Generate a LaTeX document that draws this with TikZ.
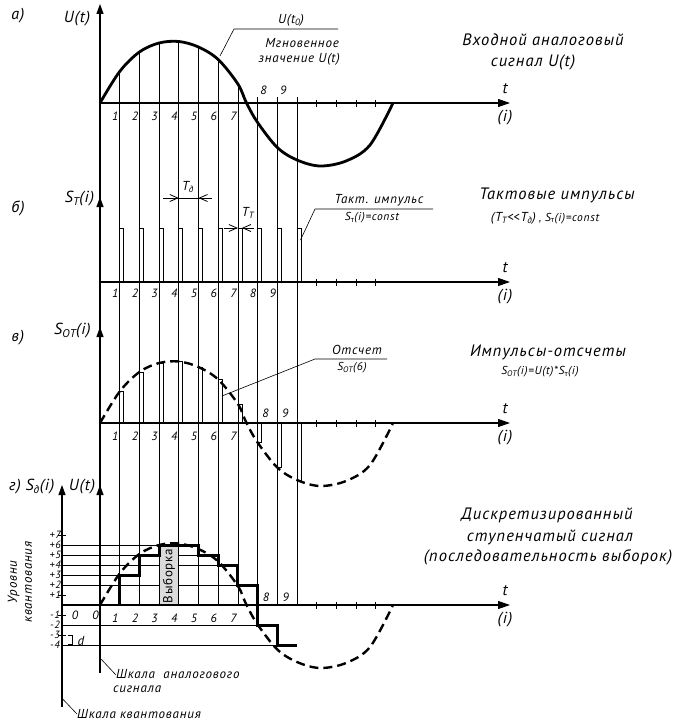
\documentclass[tikz,border=0pt]{standalone}
\usepackage{fontspec}
\setmainfont{PT Sans}[LetterSpace=6]
\usetikzlibrary{arrows.meta}
\newcommand\szT{\fontsize{16.5}{19}\selectfont}
\newcommand\szB{\fontsize{16}{18}\selectfont}
\newcommand\szM{\fontsize{13}{15}\selectfont}
\newcommand\szS{\fontsize{11.5}{13}\selectfont}
\newcommand\szQ{\fontsize{10.5}{12}\selectfont}
\newcommand\szN{\fontsize{12}{14}\selectfont}
\newcommand\lsub[1]{\textsubscript{#1}}
\begin{document}
\begin{tikzpicture}[x=1pt,y=-1pt,
  gridl/.style={line width=0.8pt},
  axisl/.style={line width=1.1pt},
  leader/.style={line width=0.6pt},
  solidcurve/.style={line width=2.8pt},
  dashcurve/.style={line width=2.4pt, dash pattern=on 9pt off 5pt},
  stair/.style={line width=3pt, line join=miter},
  vtip/.style={-{Triangle[length=10pt,width=7pt]}},
  htip/.style={-{Triangle[length=12pt,width=8pt]}},
  chev/.style={-{Straight Barb[length=8pt,width=7pt,line width=0.8pt]}},
  ttl/.style={font=\itshape\szT, inner sep=0pt},
  big/.style={font=\itshape\szB, inner sep=0pt},
  med/.style={font=\itshape\szM, inner sep=0pt},
  sml/.style={font=\itshape\szS, inner sep=0pt},
  qnt/.style={font=\itshape\szQ, inner sep=0pt},
  num/.style={font=\itshape\szN, inner sep=0pt}]
\fill[white] (0,0) rectangle (690,725);
\useasboundingbox (0,0) rectangle (690,725);

% ---- quantization level lines (panel g)
\foreach \yy/\xe in {545/198.5,555/218.2,565/237.9,575/139.4,585/257.6,625/277.3,645/297}
  \draw[gridl] (62,\yy) -- (\xe,\yy);
\foreach \yy in {535,595,615,635}
  \draw[gridl] (58,\yy) -- (66,\yy);

% ---- curves
\foreach \yy/\st in {103/solidcurve,423/dashcurve,605/dashcurve}
  \draw[\st, shift={(100,\yy)}] plot[smooth, tension=0.55] coordinates {
    (0,0) (19.7,-31.5) (39.4,-51) (59.1,-60) (78.8,-61.5) (98.5,-56)
    (118.2,-43.5) (137.9,-19) (146.5,0) (157.6,19.5) (177.3,44.5) (197,57)
    (220,63) (246,58) (270,42) (293,0)};

% ---- sample box
\fill[gray!28] (159.1,546.5) rectangle (178.8,605);
\node[font=\szM, inner sep=0pt, rotate=90] (vyb) at (169,576) {Выборка};

% ---- vertical grid lines
\foreach \k/\v in {1/31.5,2/51,3/60,4/61.5,5/56,6/43.5,7/19}
  \draw[gridl] (100+19.7*\k,103-\v) -- (100+19.7*\k,605);
\foreach \k in {8,9,10}
  \draw[gridl] (100+19.7*\k,97) -- (100+19.7*\k,605);

% ---- clock pulses (b)
\foreach \k in {1,...,10}
  \draw[gridl] (100+19.7*\k,282) -- ++(0,-54) -- ++(4,0) -- ++(0,54);
% ---- sample pulses (v)
\foreach \k/\v in {1/31.5,2/51,3/60,4/61.5,5/56,6/43.5,7/19,8/-19.5,9/-44.5,10/-57}
  \draw[gridl] (100+19.7*\k,423) -- ++(0,{-(\v)}) -- ++(4,0) -- ++(0,{\v});

% ---- staircase (g)
\draw[stair] (119.7,605) -- (119.7,575) -- (139.4,575) -- (139.4,555) -- (159.1,555)
  -- (159.1,545) -- (198.5,545) -- (198.5,555) -- (218.2,555) -- (218.2,565)
  -- (237.9,565) -- (237.9,585) -- (257.6,585) -- (257.6,625) -- (277.3,625)
  -- (277.3,645) -- (297,645);

% ---- axes
\draw[axisl] (100,10) -- (100,673);
\draw[axisl] (62,490) -- (62,707);
\foreach \yy in {4,197,327,485}
  \draw[axisl,vtip] (100,\yy+10) -- (100,\yy);
\draw[axisl,vtip] (62,495) -- (62,485);
\foreach \yy in {103,282,423}
  \draw[axisl,htip] (100,\yy) -- (510,\yy);
\draw[axisl,htip] (62,605) -- (510,605);
\foreach \yy in {103,282,423,605}
  \foreach \k in {11,...,14}
    \draw[gridl] (100+19.7*\k,\yy-3.5) -- ++(0,7);
\foreach \yy in {103,282,423,605}{
  \node[big] at (505,\yy-14) {t};
  \node[big] at (505,\yy+15) {(i)};
}

% ---- dimension marks
\draw[gridl] (163,198) -- (212,198);
\draw[gridl,chev] (163,198) -- (178.8,198);
\draw[gridl,chev] (212,198) -- (198.5,198);
\node[med] (td) at (188,187) {T\lsub{д}};
\draw[gridl,chev] (224,228) -- (237.9,228);
\draw[gridl,chev] (254,228) -- (241.9,228);
\node[med] (tt) at (248,213) {T\lsub{Т}};

% ---- bracket d
\draw[gridl] (68,635.5) -- (72,635.5) -- (72,644.5) -- (68,644.5);
\node[med] (dd) at (81,641) {d};

% ---- leaders
\draw[leader] (220,56) -- (234,29) -- (338,29);
\draw[leader] (300.5,240) -- (315,209) -- (433,209);
\draw[leader] (222,396) -- (315,359) -- (387,359);
\draw[leader] (101,659) -- (116,675);
\draw[leader] (62.7,699) -- (77,714);

% ---- numbers
\foreach \k in {1,...,7}{
  \node[num] at (100+19.7*\k-4.5,116.5) {\k};
  \node[num] at (100+19.7*\k-4.5,436) {\k};
  \node[num] at (100+19.7*\k-4.5,618) {\k};
}
\foreach \k in {1,...,9}
  \node[num] at (100+19.7*\k-4.5,293.5) {\k};
\foreach \k in {8,9}{
  \node[num] at (100+19.7*\k+6,90) {\k};
  \node[num] at (100+19.7*\k+8,413) {\k};
  \node[num] at (100+19.7*\k+8.5,597) {\k};
}
\node[num] (z1) at (75,615) {0};
\node[num] (z2) at (95.5,615) {0};
\foreach \n in {7,6,5,4,3,2,1}
  \node[qnt,anchor=east] at (61,605-10*\n) {+\n};
\foreach \n in {1,2,3,4}
  \node[qnt,anchor=east] at (60,605+10*\n) {-\n};

% ---- panel labels
\node[big] (la) at (18,16) {а)};
\node[big] (ua) at (77,19) {U(t)};
\node[big] (lb) at (18,208) {б)};
\node[big] (sb) at (79.5,199) {S\lsub{Т}(i)};
\node[big] (lv) at (18,338) {в)};
\node[big] (sv) at (72.5,331) {S\lsub{ОТ}(i)};
\node[big] (lg) at (15,487) {г)};
\node[big] (sg) at (40,487) {S\lsub{д}(i)};
\node[big] (ug) at (82,487) {U(t)};

% ---- leader texts
\node[med] (u0) at (291,20) {U(t\lsub{0})};
\node[med,anchor=east] (mg) at (339,43) {Мгновенное};
\node[med,anchor=east] (zn) at (340,59) {значение U(t)};
\node[med] (ti) at (379,200) {Такт. импульс};
\node[sml] (tc) at (372,218) {S\lsub{\upshape т}(i)=const};
\node[med] (ot) at (357,350) {Отсчет};
\node[sml] (o6) at (352,368) {S\lsub{ОТ}(6)};
\node[med,anchor=west] (sh1) at (116,674) {Шкала\ \ аналогового};
\node[med,anchor=west] (sh2) at (113,689) {сигнала};
\node[med,anchor=west] (sh3) at (77,714) {Шкала квантования};
\node[med,rotate=90,align=center] (ur) at (20,582) {Уровни\\квантования};

% ---- titles
\node[ttl] (t1) at (543,40) {Входной аналоговый};
\node[ttl] (t2) at (533,62) {сигнал U(t)};
\node[ttl] (t3) at (557,195) {Тактовые импульсы};
\node[inner sep=0pt,font=\itshape] (t4) at (545,218) {{\szM(T\lsub{Т}<\kern0pt<T\lsub{д})} {\szS, S\lsub{\upshape т}(i)=const}};
\node[ttl] (t5) at (548,352) {Импульсы-отсчеты};
\node[sml] (t6) at (540,372) {S\lsub{ОТ}(i)=U(t)*S\lsub{\upshape т}(i)};
\node[ttl] (t7) at (547,515) {Дискретизированный};
\node[ttl] (t8) at (550,537) {ступенчатый сигнал};
\node[ttl] (t9) at (548,557) {(последовательность выборок)};
\end{tikzpicture}
\end{document}
